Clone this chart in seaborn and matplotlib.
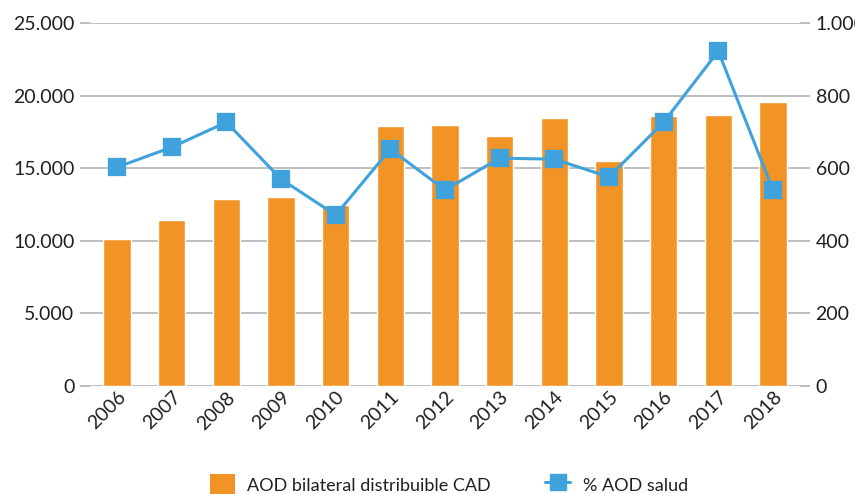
import matplotlib
matplotlib.use("Agg")
import matplotlib.pyplot as plt
import matplotlib.ticker as ticker
from matplotlib.patches import Patch
from matplotlib.lines import Line2D
import seaborn as sns
import pandas as pd

years = ["2006", "2007", "2008", "2009", "2010", "2011", "2012",
         "2013", "2014", "2015", "2016", "2017", "2018"]
aod_cad = [10100, 11400, 12900, 13000, 12500, 17900, 18000,
           17200, 18450, 15500, 18600, 18650, 19600]
aod_salud = [603, 658, 727, 570, 471, 653, 540,
             628, 625, 576, 727, 923, 540]

ORANGE = "#F29325"
BLUE = "#3FA2DC"
GRID = "#b3b3b3"
TXT = "#231f20"

df = pd.DataFrame({"year": years, "cad": aod_cad, "salud": aod_salud})

sns.set_style("white")
plt.rcParams["font.family"] = ["Lato", "DejaVu Sans"]
plt.rcParams["text.color"] = TXT

fig = plt.figure(figsize=(8.55, 4.94), dpi=100)
ax = fig.add_axes([0.105, 0.219, 0.831, 0.734])

sns.barplot(data=df, x="year", y="cad", color=ORANGE, width=0.5,
            saturation=1, ax=ax, zorder=2)
ax.set_ylim(0, 25000)
ax.set_yticks(range(0, 25001, 5000))
ax.yaxis.set_major_formatter(ticker.FuncFormatter(lambda v, p: f"{int(v):,}".replace(",", ".")))
ax.grid(axis="y", color=GRID, linewidth=1.2, zorder=0)
ax.set_axisbelow(True)
ax.set_xlabel("")
ax.set_ylabel("")
ax.set_xlim(-0.5, 12.5)

ax2 = ax.twinx()
sns.pointplot(data=df, x="year", y="salud", color=BLUE, marker="s",
              markersize=11, linewidth=2.2, ax=ax2)
ax2.set_ylim(0, 1000)
ax2.set_yticks(range(0, 1001, 200))
ax2.yaxis.set_major_formatter(ticker.FuncFormatter(lambda v, p: f"{int(v):,}".replace(",", ".")))
ax2.set_ylabel("")
ax2.set_xlim(-0.5, 12.5)

for a in (ax, ax2):
    for s in a.spines.values():
        s.set_visible(False)
    a.tick_params(axis="y", length=7, width=1.2, color=GRID, labelsize=14, labelcolor=TXT, pad=4)
ax.tick_params(axis="x", length=0, labelsize=14, labelcolor=TXT, pad=2)
for lbl in ax.get_xticklabels():
    lbl.set_rotation(45)
    lbl.set_ha("right")
    lbl.set_rotation_mode("anchor")

handles = [Patch(facecolor=ORANGE, edgecolor="none", label="AOD bilateral distribuible CAD"),
           Line2D([0], [0], color=BLUE, marker="s", markersize=11, linewidth=2.2, label="% AOD salud")]
fig.legend(handles=handles, loc="lower center", bbox_to_anchor=(0.525, -0.035), ncol=2,
           frameon=False, fontsize=13, handlelength=1.4, handleheight=1.4,
           columnspacing=3.0, handletextpad=0.7)

fig.savefig("out.png", dpi=100)
